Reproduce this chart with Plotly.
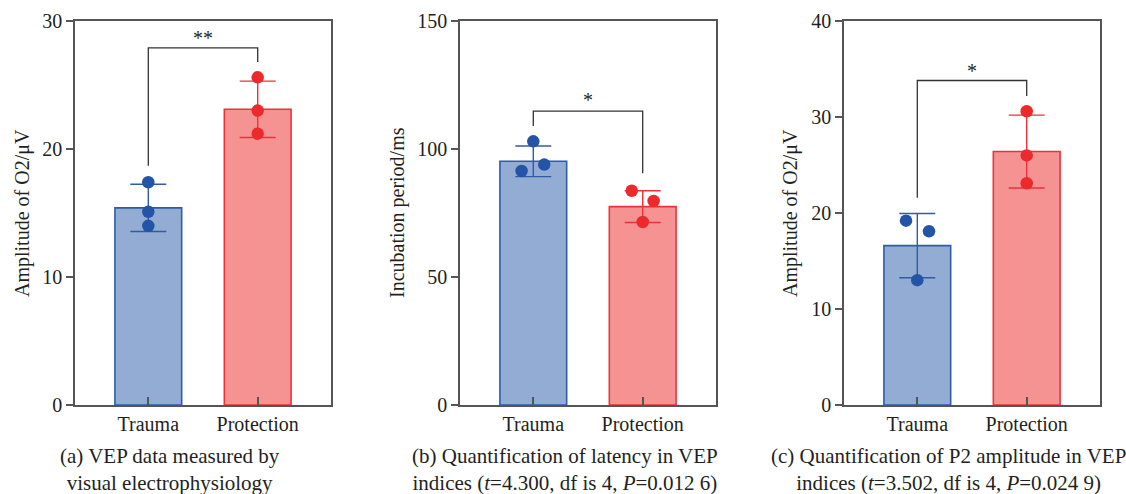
import plotly.graph_objects as go

# ---- data ----
groups = ["Trauma", "Protection"]

# (a) VEP amplitude (O2, µV)
a_means = [15.4, 23.1]
a_sd = [1.85, 2.2]
a_trauma_pts = [17.4, 15.1, 14.0]
a_protect_pts = [25.6, 23.0, 21.2]

# (b) latency (ms)
b_means = [95.2, 77.5]
b_sd = [6.0, 6.2]
b_trauma_pts = [103.0, 91.4, 93.9]
b_protect_pts = [83.7, 79.7, 71.5]

# (c) P2 amplitude (O2, µV)
c_means = [16.6, 26.4]
c_sd = [3.35, 3.8]
c_trauma_pts = [19.2, 18.1, 13.0]
c_protect_pts = [30.6, 26.0, 23.1]

y_titles = ["Amplitude of O2/μV", "Incubation period/ms", "Amplitude of O2/μV"]
y_ranges = [[0, 30], [0, 150], [0, 40]]
y_ticks = [[0, 10, 20, 30], [0, 50, 100, 150], [0, 10, 20, 30, 40]]
sig_labels = ["**", "*", "*"]
captions = [
    "(a) VEP data measured by<br>visual electrophysiology",
    "(b) Quantification of latency in VEP<br>indices (<i>t</i>=4.300, df is 4, <i>P</i>=0.012 6)",
    "(c) Quantification of P2 amplitude in VEP<br>indices (<i>t</i>=3.502, df is 4, <i>P</i>=0.024 9)",
]

# ---- layout constants ----
W, H = 1126, 494
FONT = "Liberation Serif"
TXT = "#231f20"
BLUE_FILL, BLUE_LINE, BLUE_DOT = "#93acd3", "#2f5ba9", "#2454a6"
RED_FILL, RED_LINE, RED_DOT = "#f59393", "#e8333b", "#ec2a2c"

panel_px = [(75, 331), (460, 716), (844, 1100)]
ytitle_px = [22, 397, 790]
caption_px = [170, 565, 948]

# horizontal jitter of replicate dots (category units)
jitter = [
    ([0, 0, 0], [0, 0, 0]),
    ([0, -0.107, 0.10], [-0.10, 0.10, 0]),
    ([-0.103, 0.107, 0], [0, 0, 0]),
]
# significance brackets: (top, left foot, right foot, label y)
brackets = [
    (27.9, 18.7, 26.8, 28.7),
    (114.8, 109.0, 90.5, 119.0),
    (33.8, 21.6, 32.2, 34.8),
]

means = [a_means, b_means, c_means]
sds = [a_sd, b_sd, c_sd]
pts = [(a_trauma_pts, a_protect_pts), (b_trauma_pts, b_protect_pts), (c_trauma_pts, c_protect_pts)]

fig = go.Figure()
annotations = []
shapes = []

for i in range(3):
    xa = "x" if i == 0 else f"x{i+1}"
    ya = "y" if i == 0 else f"y{i+1}"
    xpos = list(range(len(groups)))
    fills = [BLUE_FILL, RED_FILL]
    lines = [BLUE_LINE, RED_LINE]
    dots = [BLUE_DOT, RED_DOT]
    for g in range(2):
        fig.add_trace(go.Bar(
            x=[xpos[g]], y=[means[i][g]], width=0.61,
            marker=dict(color=fills[g], line=dict(color=lines[g], width=1.6)),
            xaxis=xa, yaxis=ya, showlegend=False, hoverinfo="skip",
        ))
    for g in range(2):
        fig.add_trace(go.Scatter(
            x=[xpos[g]], y=[means[i][g]], mode="markers",
            marker=dict(size=1, color="rgba(0,0,0,0)"),
            error_y=dict(type="data", array=[sds[i][g]], color=lines[g], thickness=1.4, width=18),
            xaxis=xa, yaxis=ya, showlegend=False, hoverinfo="skip",
        ))
        vals = pts[i][g]
        fig.add_trace(go.Scatter(
            x=[xpos[g] + d for d in jitter[i][g]], y=vals, mode="markers",
            marker=dict(size=12.5, color=dots[g]),
            xaxis=xa, yaxis=ya, showlegend=False, hoverinfo="skip",
        ))

    x0, x1 = panel_px[i]
    axis_common = dict(
        showline=True, linecolor="#555555", linewidth=1.5, mirror=True,
        showgrid=False, zeroline=False,
        tickfont=dict(family=FONT, size=20, color=TXT),
    )
    fig.update_layout(**{
        ("xaxis" if i == 0 else f"xaxis{i+1}"): dict(
            domain=[x0 / W, x1 / W], range=[-0.67, 1.67],
            tickmode="array", tickvals=xpos, ticktext=groups,
            ticks="inside", ticklen=8, tickwidth=1.5, tickcolor="#555555",
            anchor=ya, **axis_common),
        ("yaxis" if i == 0 else f"yaxis{i+1}"): dict(
            domain=[0, 1], range=y_ranges[i],
            tickmode="array", tickvals=y_ticks[i],
            ticks="outside", ticklen=7, tickwidth=1.5, tickcolor="#555555",
            anchor=xa, **axis_common),
    })

    # y-axis title
    annotations.append(dict(
        text=y_titles[i], xref="paper", yref="paper",
        x=ytitle_px[i] / W, y=0.5, textangle=-90, showarrow=False,
        font=dict(family=FONT, size=20, color=TXT), xanchor="center", yanchor="middle",
    ))
    # caption under each panel
    annotations.append(dict(
        text=captions[i], xref="paper", yref="paper",
        x=caption_px[i] / W, y=-(442 - 405) / 384, showarrow=False, align="center",
        font=dict(family=FONT, size=21, color=TXT), xanchor="center", yanchor="top",
    ))
    # significance bracket
    top, lf, rf, ly = brackets[i]
    bx = dict(color="#333333", width=1.3)
    shapes.append(dict(type="path", xref=xa, yref=ya,
                       path=f"M 0 {lf} L 0 {top} L 1 {top} L 1 {rf}", line=bx))
    annotations.append(dict(
        text=sig_labels[i], xref=xa, yref=ya, x=0.5, y=ly, showarrow=False,
        font=dict(family=FONT, size=20, color=TXT), yanchor="middle",
    ))

fig.update_layout(
    width=W, height=H,
    margin=dict(l=0, r=0, t=21, b=89),
    paper_bgcolor="white", plot_bgcolor="white",
    barmode="overlay",
    annotations=annotations, shapes=shapes,
    font=dict(family=FONT, color=TXT),
)

fig.write_html("out.html")
